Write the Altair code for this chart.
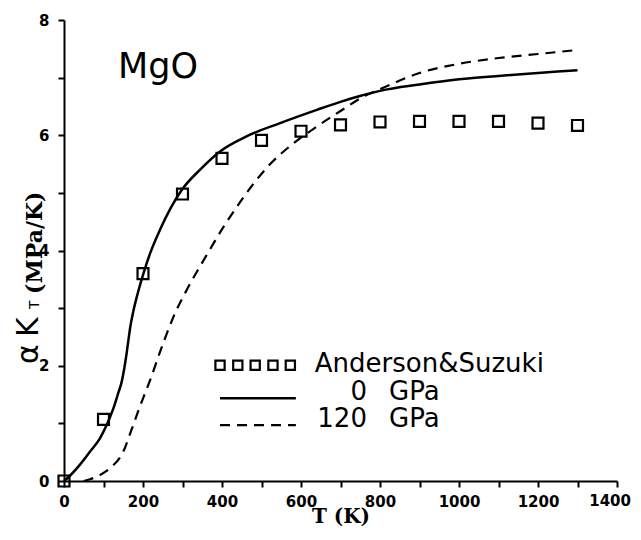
import altair as alt
import pandas as pd

# Anderson & Suzuki data (squares)
T_sq = [0, 100, 200, 300, 400, 500, 600, 700, 800, 900, 1000, 1100, 1200, 1300]
V_sq = [0.0, 1.07, 3.6, 4.98, 5.6, 5.91, 6.07, 6.18, 6.23, 6.24, 6.24, 6.24, 6.21, 6.17]

# 0 GPa curve (solid)
T_0 = [0, 7, 40, 66, 91, 108, 125, 137, 146, 152, 158, 163, 168, 175, 186, 201, 218, 243, 298, 344,
       395, 462, 547, 640, 700, 749, 800, 900, 1000, 1100, 1200, 1300]
V_0 = [0.0, 0.04, 0.28, 0.51, 0.74, 0.97, 1.26, 1.52, 1.72, 1.93, 2.19, 2.44, 2.68, 2.93, 3.24, 3.60,
       3.95, 4.36, 5.05, 5.40, 5.72, 5.98, 6.21, 6.44, 6.58, 6.68, 6.77, 6.88, 6.97, 7.03, 7.08, 7.13]

# 120 GPa curve (dashed)
T_120 = [50, 66, 90, 116, 150, 171, 192, 218, 251, 281, 311, 344, 361, 403, 420, 471,
         522, 581, 640, 700, 766, 800, 900, 1000, 1100, 1200, 1300]
V_120 = [0.0, 0.03, 0.1, 0.22, 0.51, 0.89, 1.29, 1.75, 2.39, 2.91, 3.32, 3.72, 3.92, 4.40, 4.58, 5.08,
         5.50, 5.86, 6.15, 6.42, 6.70, 6.80, 7.08, 7.24, 7.34, 7.41, 7.48]

# legend pieces (data coordinates)
leg_sq_T = [395, 440, 484, 529, 573]
leg_sq_V = [2.01, 2.01, 2.01, 2.01, 2.01]
leg_line_T = [395, 587]
leg_solid_V = [1.435, 1.435]
leg_dash_V = [0.97, 0.97]

x_ticks = list(range(0, 1401, 100))
y_ticks = list(range(0, 9))
x_last_label = [x_ticks[-1]]

xs = alt.Scale(domain=[0, 1400], nice=False, zero=False)
ys = alt.Scale(domain=[0, 8], nice=False, zero=False)

LABEL_FONT = "DejaVu Sans"
LABEL_SIZE = 15

xaxis = alt.Axis(values=x_ticks, format="d",
                 labelExpr="datum.value % 200 === 0 && datum.value < 1400 ? datum.label : ''",
                 grid=False, domainColor="black", domainWidth=2,
                 tickColor="black", tickWidth=2, tickSize=6,
                 labelFont=LABEL_FONT, labelFontWeight="bold", labelFontSize=LABEL_SIZE,
                 labelColor="black", labelPadding=7, labelOverlap=False, labelFlush=False,
                 title="T  (K)", titleFont="DejaVu Serif", titleFontWeight="bold",
                 titleFontSize=20, titleColor="black", titlePadding=-3)
yaxis = alt.Axis(values=y_ticks, format="d",
                 labelExpr="datum.value % 2 === 0 ? datum.label : ''",
                 grid=False, domainColor="black", domainWidth=2,
                 tickColor="black", tickWidth=2, tickSize=6,
                 labelFont=LABEL_FONT, labelFontWeight="bold", labelFontSize=LABEL_SIZE,
                 labelColor="black", labelPadding=9, labelFlush=False, labelOverlap=False,
                 title=None)

def X(f):
    return alt.X(f, type="quantitative", scale=xs, axis=xaxis)

def Y(f):
    return alt.Y(f, type="quantitative", scale=ys, axis=yaxis)

df_sq = pd.DataFrame({"T": T_sq, "V": V_sq})
df_0 = pd.DataFrame({"T": T_0, "V": V_0})
df_120 = pd.DataFrame({"T": T_120, "V": V_120})
df_lsq = pd.DataFrame({"T": leg_sq_T, "V": leg_sq_V})
df_lsolid = pd.DataFrame({"T": leg_line_T, "V": leg_solid_V})
df_ldash = pd.DataFrame({"T": leg_line_T, "V": leg_dash_V})

solid = alt.Chart(df_0).mark_line(color="black", strokeWidth=2.5, interpolate="monotone").encode(
    x=X("T"), y=Y("V"))
dashed = alt.Chart(df_120).mark_line(color="black", strokeWidth=2.2, strokeDash=[10, 7],
                                     interpolate="monotone").encode(x=X("T"), y=Y("V"))
squares = alt.Chart(df_sq).mark_point(shape="square", filled=False, size=120, strokeWidth=2.2,
                                      color="black", opacity=1).encode(x=X("T"), y=Y("V"))

leg_squares = alt.Chart(df_lsq).mark_point(shape="square", filled=False, size=85, strokeWidth=2.2,
                                           color="black", opacity=1).encode(x=X("T"), y=Y("V"))
leg_solid = alt.Chart(df_lsolid).mark_line(color="black", strokeWidth=2.5).encode(x=X("T"), y=Y("V"))
leg_dash = alt.Chart(df_ldash).mark_line(color="black", strokeWidth=2.2, strokeDash=[10, 7]).encode(
    x=X("T"), y=Y("V"))

# last x tick label, drawn right-aligned so it stays inside the page
df_last = pd.DataFrame({"T": x_last_label, "t": [str(v) for v in x_last_label]})
last_label = alt.Chart(df_last).mark_text(
    font=LABEL_FONT, fontSize=LABEL_SIZE, fontWeight="bold", align="right", baseline="top",
    dx=14, color="black").encode(x=X("T"), y=alt.value(474), text="t:N")

# texts in data coordinates
df_mgo = pd.DataFrame({"T": [137], "V": [7.0], "t": ["MgO"]})
mgo = alt.Chart(df_mgo).mark_text(font="DejaVu Sans", fontSize=35, align="left",
                                  baseline="alphabetic", color="black").encode(
    x=X("T"), y=Y("V"), text="t:N")

df_legl = pd.DataFrame({"T": [635, 823, 823], "V": [1.89, 1.406, 0.93],
                        "t": ["Anderson&Suzuki", "GPa", "GPa"]})
legl = alt.Chart(df_legl).mark_text(font="DejaVu Sans", fontSize=26, align="left",
                                    baseline="alphabetic", color="black").encode(
    x=X("T"), y=Y("V"), text="t:N")
df_legr = pd.DataFrame({"T": [767, 767], "V": [1.406, 0.93], "t": ["0", "120"]})
legr = alt.Chart(df_legr).mark_text(font="DejaVu Sans", fontSize=26, align="right",
                                    baseline="alphabetic", color="black").encode(
    x=X("T"), y=Y("V"), text="t:N")

# y-axis title pieces (rotated), placed in pixels left of the axis
def ytitle(txt, px, py, font, size, weight="normal"):
    return alt.Chart(pd.DataFrame({"t": [txt]})).mark_text(
        font=font, fontSize=size, fontWeight=weight, angle=270, align="left",
        baseline="alphabetic", color="black").encode(
        x=alt.value(px), y=alt.value(py), text="t:N")

yt_alpha = ytitle("α", -26, 344, "DejaVu Sans", 30)
yt_K = ytitle("K", -26, 317, "DejaVu Sans", 30)
yt_T = ytitle("T", -25, 289, "DejaVu Sans", 14)
yt_unit = ytitle("(MPa/K)", -22, 274, "DejaVu Serif", 22, "bold")

chart = alt.layer(
    solid, dashed, squares, leg_squares, leg_solid, leg_dash, last_label, mgo, legl, legr,
    yt_alpha, yt_K, yt_T, yt_unit
).properties(
    width=553, height=461,
    autosize=alt.AutoSizeParams(type="none"),
    padding={"left": 56, "top": 12, "right": 14, "bottom": 45},
    background="white"
).configure_view(stroke=None)

chart.save("out.html", embed_options={"renderer": "svg", "actions": False})
